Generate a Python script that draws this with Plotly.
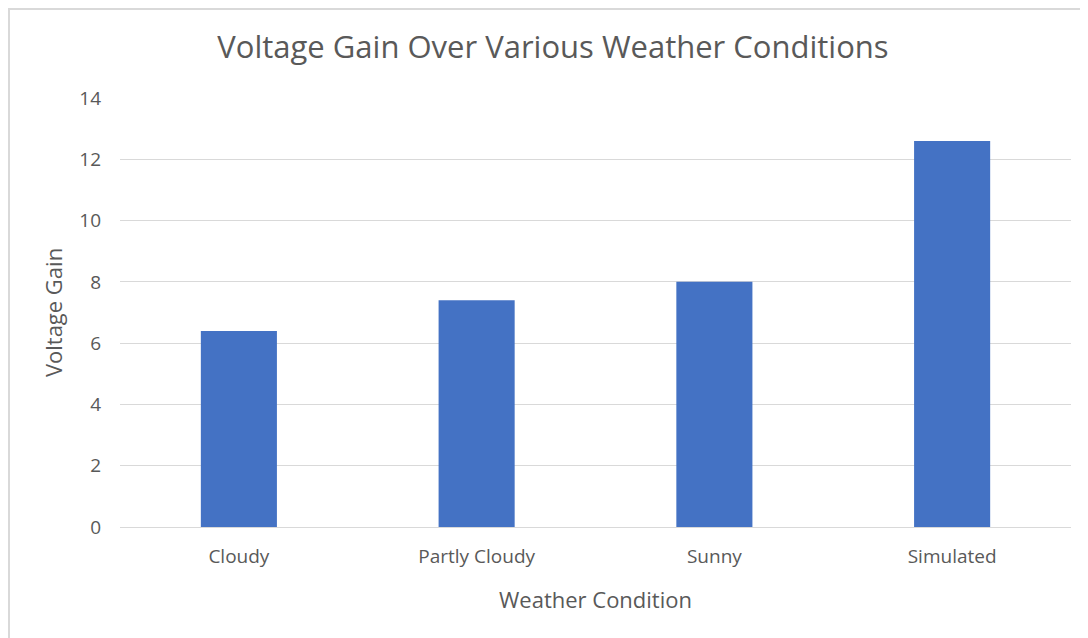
import plotly.graph_objects as go

# data
conditions = ["Cloudy", "Partly Cloudy", "Sunny", "Simulated"]
voltage_gain = [6.4, 7.4, 8.0, 12.6]
y_ticks = [0, 2, 4, 6, 8, 10, 12, 14]

TEXT = "#595959"
GRID = "#d9d9d9"

fig = go.Figure(
    go.Bar(x=conditions, y=voltage_gain, marker=dict(color="#4472C4", line=dict(width=0)))
)

# the page adds 8px of body margin, so the figure is a bit smaller than the window
fig.update_layout(
    width=1080,
    height=630,
    plot_bgcolor="white",
    paper_bgcolor="white",
    margin=dict(l=112, r=17, t=90, b=111),
    bargap=0.68,
    showlegend=False,
    title=dict(
        text="Voltage Gain Over Various Weather Conditions",
        x=0.5046, xanchor="center", y=0.938, yanchor="middle",
        font=dict(family="Open Sans, sans-serif", size=31, color=TEXT),
    ),
    font=dict(family="Open Sans, sans-serif", size=19, color=TEXT),
    xaxis=dict(
        showline=True, linecolor=GRID, linewidth=1,
        showgrid=False, ticks="", ticklabelstandoff=12,
        title=dict(text="Weather Condition", standoff=24, font=dict(size=22, color=TEXT)),
    ),
    yaxis=dict(
        range=[0, 14], tickvals=y_ticks, showgrid=True, gridcolor=GRID, gridwidth=1,
        zeroline=False, showline=False, ticks="", ticklabelstandoff=18,
        title=dict(text="Voltage Gain", standoff=10, font=dict(size=22, color=TEXT)),
    ),
)

# light frame round the chart area, as in the reference
fig.add_shape(
    type="rect", xref="paper", yref="paper",
    x0=-0.1167, x1=1.2, y0=-0.5, y1=1.2075,
    line=dict(color=GRID, width=2), layer="below",
)

fig.write_html("out.html")
